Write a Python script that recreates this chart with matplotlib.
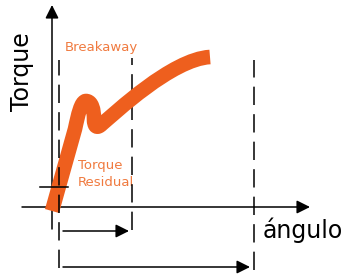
import numpy as np
import matplotlib
matplotlib.use("Agg")
import matplotlib.pyplot as plt
from matplotlib.path import Path
from matplotlib.patches import PathPatch

# torque curve (bezier control points, angle vs torque)
curve_x = [0, 23, 26, 29, 34, 40, 42, 42, 42, 45, 50, 62, 120, 158]
curve_y = [-4, 78, 92, 106, 106, 106, 97, 88, 80, 78, 83, 93, 148, 150]
curve_codes = [Path.MOVETO, Path.LINETO,
               Path.CURVE4, Path.CURVE4, Path.CURVE4,
               Path.CURVE4, Path.CURVE4, Path.CURVE4,
               Path.CURVE4, Path.CURVE4, Path.CURVE4,
               Path.CURVE4, Path.CURVE4, Path.CURVE4]

# dashed markers: angle, top, bottom
dash_x = [7, 80, 202]
dash_top = [147, 149, 147]
dash_bottom = [-61, -23, -63]

# interval arrows: start, end, level
span_start = [11, 11]
span_end = [77, 198]
span_level = [-24, -60]

residual_level = 20

orange = "#EE5F1E"
text_orange = "#F07A3F"

fig = plt.figure(figsize=(3.47, 2.74), dpi=100)
ax = fig.add_axes([0, 0, 1, 1])
ax.set_xlim(-52, 295)
ax.set_ylim(-67, 207)
ax.axis("off")

arrow = dict(arrowstyle="-|>", color="black", lw=1.1, mutation_scale=20,
             shrinkA=0, shrinkB=0)

# axes
ax.annotate("", xy=(0, 202), xytext=(0, -22), arrowprops=arrow, zorder=1)
ax.annotate("", xy=(258, 0), xytext=(-30, 0), arrowprops=arrow, zorder=1)

# curve
path = Path(np.column_stack([curve_x, curve_y]), curve_codes)
ax.add_patch(PathPatch(path, fill=False, edgecolor=orange, lw=10.5,
                       capstyle="butt", joinstyle="round", zorder=2))

# dashed markers
for i, (x, t, b) in enumerate(zip(dash_x, dash_top, dash_bottom)):
    ax.plot([x, x], [b, t], color="black", lw=1.1, dashes=(12, 6),
            zorder=1 if i == 1 else 3)

# residual tick
ax.plot([-12, 16], [residual_level, residual_level], color="black", lw=1.1, zorder=3)

# interval arrows
for s, e, lv in zip(span_start, span_end, span_level):
    ax.annotate("", xy=(e, lv), xytext=(s, lv), arrowprops=arrow)

ax.text(-30, 135, "Torque", rotation=90, ha="center", va="center",
        fontsize=17, color="black")
ax.text(211, -23, "ángulo", ha="left", va="center", fontsize=17, color="black")
ax.text(13, 160, "Breakaway", ha="left", va="center", fontsize=9.5,
        color=text_orange)
ax.text(26, 42, "Torque", ha="left", va="center", fontsize=9.5,
        color=text_orange, zorder=0)
ax.text(26, 25, "Residual", ha="left", va="center", fontsize=9.5,
        color=text_orange, zorder=0)

fig.savefig("out.png", dpi=100)
